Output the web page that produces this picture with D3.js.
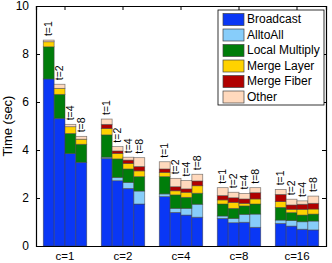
<!DOCTYPE html>
<html>
<head>
<meta charset="utf-8">
<script src="https://cdn.jsdelivr.net/npm/d3@7"></script>
<style>
  body { margin: 0; background: #fff; }
  svg { display: block; font-family: "Liberation Sans", Arial, sans-serif; }
</style>
</head>
<body>
<div id="chart"></div>
<script>
// categories
const groups = ['c=1', 'c=2', 'c=4', 'c=8', 'c=16']
const threads = ['t=1', 't=2', 't=4', 't=8']
const seriesNames = ['Broadcast', 'AlltoAll', 'Local Multiply', 'Merge Layer', 'Merge Fiber', 'Other']
const yTicks = [0, 2, 4, 6, 8, 10]

// series values, one per (group, thread) in order c=1 t=1..t=8, c=2 t=1..
const broadcast = [6.96, 5.32, 3.85, 3.49, 3.65, 2.72, 2.40, 1.75, 2.06, 1.40, 1.29, 1.20, 1.15, 0.97, 0.99, 0.78, 0.94, 0.83, 0.70, 0.67]
const alltoall = [0, 0, 0, 0, 0.05, 0.14, 0.25, 0.54, 0.11, 0.17, 0.28, 0.54, 0.10, 0.18, 0.33, 0.55, 0.14, 0.23, 0.31, 0.37]
const localMultiply = [1.34, 1.00, 0.84, 0.75, 0.93, 0.77, 0.56, 0.60, 0.72, 0.56, 0.46, 0.46, 0.50, 0.42, 0.35, 0.42, 0.53, 0.33, 0.28, 0.29]
const mergeLayer = [0.21, 0.25, 0.28, 0.21, 0.27, 0.23, 0.23, 0.24, 0.18, 0.17, 0.21, 0.31, 0.17, 0.25, 0.11, 0.21, 0.24, 0.14, 0.24, 0.21]
const mergeFiber = [0, 0, 0, 0, 0.17, 0.10, 0.14, 0.18, 0.14, 0.17, 0.14, 0.20, 0.18, 0.19, 0.18, 0.26, 0.30, 0.18, 0.21, 0.24]
const other = [0.07, 0.17, 0.10, 0.12, 0.22, 0.18, 0.12, 0.37, 0.30, 0.35, 0.35, 0.28, 0.33, 0.23, 0.23, 0.21, 0.21, 0.24, 0.14, 0.30]

const colors = ['#0a37f5', '#87cdfa', '#007d0a', '#ffd200', '#b00000', '#ffd9bd']

const width = 332
const height = 263
const margin = {top: 6, right: 6, bottom: 17, left: 36}

// build rows for the stack
const values = [broadcast, alltoall, localMultiply, mergeLayer, mergeFiber, other]
const rows = []
groups.forEach(function(g, gi) {
  threads.forEach(function(t, ti) {
    const row = {group: g, thread: t}
    seriesNames.forEach(function(s, si) { row[s] = values[si][gi * threads.length + ti] })
    rows.push(row)
  })
})

const svg = d3.select('#chart').append('svg')
  .attr('width', width)
  .attr('height', height)

const x = d3.scaleBand()
  .domain(groups)
  .range([margin.left, width - margin.right])
  .paddingInner(0.25)
  .paddingOuter(0.125)

const xThread = d3.scaleBand()
  .domain(threads)
  .range([0, x.bandwidth()])

const y = d3.scaleLinear()
  .domain([0, 10])
  .range([height - margin.bottom, margin.top])

const color = d3.scaleOrdinal()
  .domain(seriesNames)
  .range(colors)

const stacked = d3.stack().keys(seriesNames)(rows)

// bars
svg.append('g')
  .selectAll('g')
  .data(stacked)
  .join('g')
  .attr('fill', function(d) { return color(d.key) })
  .selectAll('rect')
  .data(function(d) { return d })
  .join('rect')
  .attr('x', function(d) { return x(d.data.group) + xThread(d.data.thread) })
  .attr('y', function(d) { return y(d[1]) })
  .attr('width', xThread.bandwidth())
  .attr('height', function(d) { return y(d[0]) - y(d[1]) })
  .attr('stroke', '#444')
  .attr('stroke-opacity', 0.7)
  .attr('stroke-width', 0.7)

// t= labels above each bar
svg.append('g')
  .selectAll('text')
  .data(rows)
  .join('text')
  .attr('transform', function(d) {
    const total = d3.sum(seriesNames, function(s) { return d[s] })
    const cx = x(d.group) + xThread(d.thread) + xThread.bandwidth() / 2 + 1
    return `translate(${cx}, ${y(total) - 4}) rotate(-90)`
  })
  .attr('dominant-baseline', 'middle')
  .attr('font-size', 10.5)
  .text(function(d) { return d.thread })

// axes, box with inward ticks
const plotLeft = margin.left
const plotRight = width - margin.right
const plotTop = margin.top
const plotBottom = height - margin.bottom

svg.append('g')
  .attr('transform', `translate(${plotLeft}, 0)`)
  .call(d3.axisLeft(y).tickValues(yTicks).tickSize(-4).tickPadding(7))
  .call(function(g) { g.selectAll('text').attr('font-size', 12).attr('fill', '#000') })
svg.append('g')
  .attr('transform', `translate(${plotRight}, 0)`)
  .call(d3.axisRight(y).tickValues(yTicks).tickSize(-4).tickFormat(''))
svg.append('g')
  .attr('transform', `translate(0, ${plotBottom})`)
  .call(d3.axisBottom(x).tickSize(0).tickPadding(6))
  .call(function(g) { g.selectAll('text').attr('font-size', 11.5).attr('fill', '#000') })
svg.append('g')
  .attr('transform', `translate(0, ${plotTop})`)
  .call(d3.axisTop(x).tickSize(-4).tickFormat(''))

svg.selectAll('.domain').attr('stroke', '#000').attr('stroke-width', 1.2)
svg.selectAll('.tick line').attr('stroke', '#000')
svg.selectAll('.tick text').attr('font-family', '"Liberation Sans", Arial, sans-serif')

svg.append('text')
  .attr('transform', `translate(12, ${(plotTop + plotBottom) / 2}) rotate(-90)`)
  .attr('text-anchor', 'middle')
  .attr('font-size', 13)
  .text('Time (sec)')

// legend
const legendX = 218
const legendY = 10
const legend = svg.append('g')
  .attr('transform', `translate(${legendX}, ${legendY})`)
legend.append('rect')
  .attr('width', 106)
  .attr('height', 95)
  .attr('fill', '#fff')
  .attr('stroke', '#000')
  .attr('stroke-width', 0.8)
const item = legend.selectAll('g.item')
  .data(seriesNames)
  .join('g')
  .attr('class', 'item')
  .attr('transform', function(d, i) { return `translate(5, ${3.5 + i * 15.5})` })
item.append('rect')
  .attr('width', 21)
  .attr('height', 12)
  .attr('fill', function(d) { return color(d) })
  .attr('stroke', '#444')
  .attr('stroke-width', 0.7)
item.append('text')
  .attr('x', 24)
  .attr('y', 6.5)
  .attr('dominant-baseline', 'middle')
  .attr('font-size', 12)
  .text(function(d) { return d })
</script>
</body>
</html>
